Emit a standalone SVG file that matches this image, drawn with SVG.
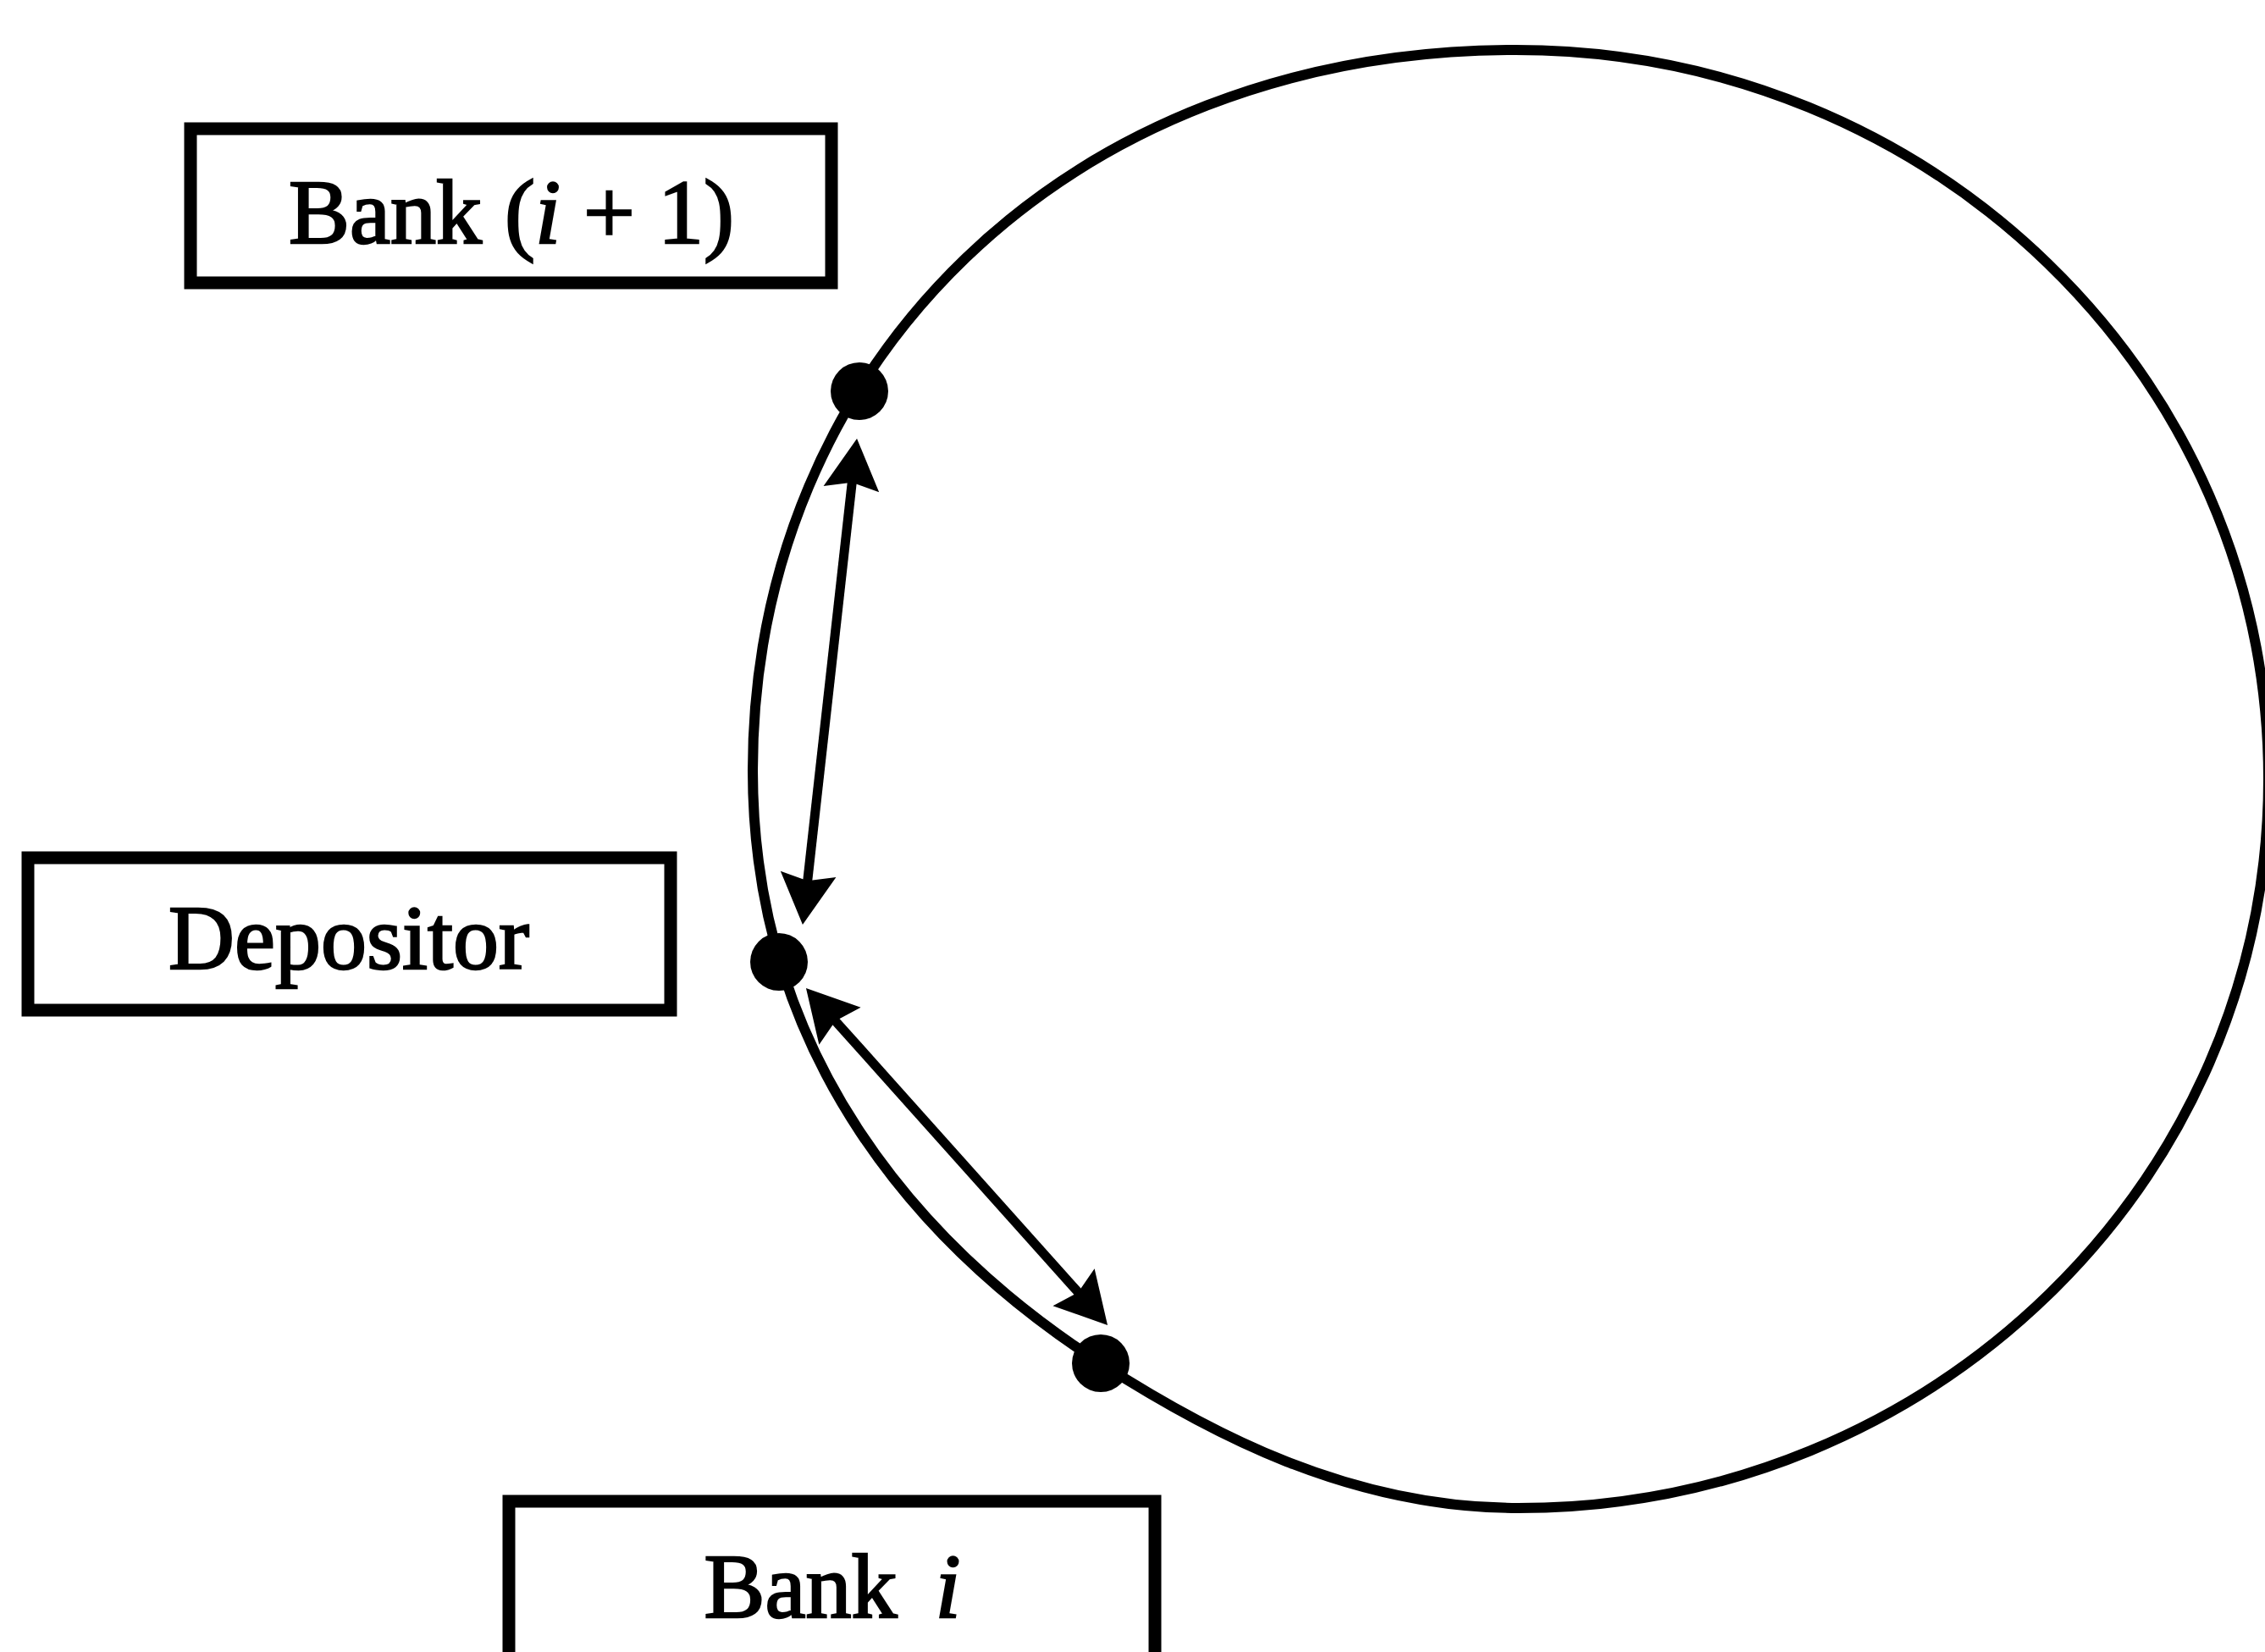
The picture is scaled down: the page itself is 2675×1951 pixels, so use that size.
<svg xmlns="http://www.w3.org/2000/svg" width="2675" height="1951" viewBox="0 0 2675 1951">
<style>
.box{fill:#fff;stroke:#000;stroke-width:15}
.lbl{font-family:"Liberation Serif","Times New Roman",serif;font-size:108px;fill:#000;stroke:#000;stroke-width:2.5;text-anchor:middle}
.it{font-style:italic}
.ring{fill:none;stroke:#000;stroke-width:12}
.dot{fill:#000}
.arr{stroke:#000;stroke-width:11;fill:none;marker-start:url(#ah);marker-end:url(#ah)}
</style>
<defs>
<marker id="ah" markerUnits="userSpaceOnUse" orient="auto-start-reverse" refX="0" refY="0" markerWidth="80" markerHeight="80" overflow="visible">
<path d="M50,0 L-10,-33 L-2,0 L-10,33 Z" fill="#000"/>
</marker>
</defs>
<rect width="2675" height="1951" fill="#fff"/>
<g id="ring">
<path class="ring" d="M889,910 C889,430 1260,59 1790,59 C2281,59 2679,444.5 2679,920 C2679,1395.5 2282.3,1781 1793,1781 C1593,1781 1426,1691 1300,1610 C1090,1475 889,1250 889,910 Z"/>
</g>
<g id="connectors">
<line class="arr" x1="1006.5" y1="567.7" x2="953.5" y2="1042.3"/>
<line class="arr" x1="985.3" y1="1204.3" x2="1274.7" y2="1527.7"/>
</g>
<g id="dot-bank-i1"><circle class="dot" cx="1015" cy="462" r="34"/></g>
<g id="dot-depositor"><circle class="dot" cx="920" cy="1136" r="34"/></g>
<g id="dot-bank-i"><circle class="dot" cx="1300" cy="1610" r="34"/></g>
<g id="node-bank-i1">
<rect class="box" x="225" y="152" width="757" height="182"/>
<text class="lbl" x="604" y="287">Bank (<tspan class="it">i</tspan> + 1)</text>
</g>
<g id="node-depositor">
<rect class="box" x="33" y="1013" width="759" height="180"/>
<text class="lbl" x="412" y="1144" font-size="106">Depositor</text>
</g>
<g id="node-bank-i">
<rect class="box" x="601" y="1773" width="763" height="200"/>
<text class="lbl" x="983" y="1910">Bank <tspan class="it" dx="18">i</tspan></text>
</g>
</svg>
